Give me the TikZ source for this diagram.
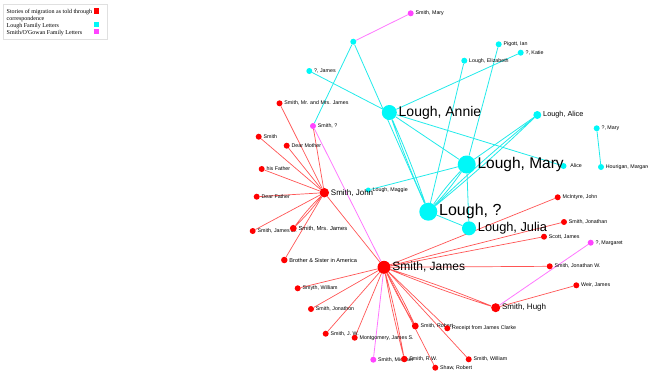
\documentclass[tikz,border=0pt]{standalone}
\usepackage{fontspec}
\setmainfont{Liberation Sans}
\newfontfamily\legendfont{Liberation Serif}
\usetikzlibrary{shapes,arrows}
\newcommand{\fsz}[1]{\fontsize{#1}{#1}\selectfont}

\definecolor{smithred}{HTML}{FF0000}
\definecolor{loughcyan}{HTML}{00F8F8}
\definecolor{gowanpink}{HTML}{FF44FF}
\definecolor{redline}{HTML}{FF5555}
\definecolor{cyanline}{HTML}{22EAEA}
\definecolor{pinkline}{HTML}{FF77FF}

\tikzstyle{person} = [circle, inner sep=0pt, minimum size=6pt]
\tikzstyle{smith} = [person, fill=smithred]
\tikzstyle{lough} = [person, fill=loughcyan]
\tikzstyle{gowan} = [person, fill=gowanpink]
\tikzstyle{every label} = [inner sep=1.5pt, font=\fsz{5.3}]
\tikzstyle{red link} = [draw=redline, line width=0.7pt]
\tikzstyle{cyan link} = [draw=cyanline, line width=0.8pt]
\tikzstyle{pink link} = [draw=pinkline, line width=0.8pt]
\tikzstyle{legend frame} = [draw=black!12, line width=0.4pt]
\tikzstyle{legend text} = [inner sep=0pt, align=left, font=\legendfont\fontsize{6}{7}\selectfont]
\tikzstyle{key} = [rectangle, inner sep=0pt, minimum size=5.5pt]

\pgfdeclarelayer{links}
\pgfsetlayers{links,main}

\begin{document}
\begin{tikzpicture}[x=1pt, y=-1pt]
\useasboundingbox (0,0) rectangle (648,370);

% legend
\draw [legend frame] (3,4) rectangle (107,39);
\node [legend text, anchor=north west, name=keytext1] at (6.5,8.8) {Stories of migration as told through\\correspondence};
\node [legend text, anchor=base west, name=keytext2] at (6.5,27) {Lough Family Letters};
\node [legend text, anchor=base west, name=keytext3] at (6.5,34) {Smith/O'Gowan Family Letters};
\node [key, fill=smithred, name=key1] at (96.7,11) {};
\node [key, fill=loughcyan, name=key2] at (96.7,24.5) {};
\node [key, fill=gowanpink, name=key3] at (96.7,31.5) {};

% Lough family
\node [lough, name=lnone] at (353.3,41.7) {};
\node [gowan, name=smithmary, label={right:Smith, Mary}] at (410.7,13.3) {};
\node [lough, name=jamesq, label={right:?, James}] at (309.3,71) {};
\node [lough, name=pigott, label={right:Pigott, Ian}] at (498.7,44.3) {};
\node [lough, name=katie, label={right:?, Katie}] at (520.7,52.7) {};
\node [lough, name=elizabeth, label={right:Lough, Elizabeth}] at (464.3,60.7) {};
\node [lough, name=annie, minimum size=15pt, label={[font=\fsz{14}]right:Lough, Annie}] at (389.3,112.5) {};
\node [lough, name=alice, minimum size=8pt, label={[font=\fsz{7.3}]right:Lough, Alice}] at (537.3,115) {};
\node [lough, name=maryq, label={right:?, Mary}] at (596.7,128.3) {};
\node [lough, name=hourigan, label={right:Hourigan, Margaret}] at (601,167) {};
\node [lough, name=alicetwo, label={[label distance=2pt]right:Alice}] at (563.5,166) {};
\node [lough, name=maggie, minimum size=5pt, label={right:Lough, Maggie}] at (368.3,190) {};
\node [lough, name=mary, minimum size=18pt, label={[font=\fsz{15.5}]right:Lough, Mary}] at (466.7,164.5) {};
\node [lough, name=loughq, minimum size=18pt, label={[font=\fsz{16}]right:Lough, ?}] at (428.3,211.7) {};
\node [lough, name=julia, minimum size=14pt, label={[font=\fsz{12.8}]right:Lough, Julia}] at (469,228.3) {};

% Smith family
\node [smith, name=mrmrs, label={right:Smith, Mr. and Mrs. James}] at (279.5,103.3) {};
\node [gowan, name=smithq, label={right:Smith, ?}] at (313,126) {};
\node [smith, name=smithonly, label={right:Smith}] at (258.7,136.7) {};
\node [smith, name=mother, label={right:Dear Mother}] at (286.7,145.7) {};
\node [smith, name=hisfather, label={right:his Father}] at (261.7,169) {};
\node [smith, name=father, label={right:Dear Father}] at (256.7,196.7) {};
\node [smith, name=jamesjr, label={right:Smith, James Jr.}] at (252.7,231) {};
\node [smith, name=mrsjames, minimum size=6.8pt, label={[font=\fsz{5.8}]right:Smith, Mrs. James}] at (293.3,228.3) {};
\node [smith, name=brother, minimum size=6.5pt, label={[font=\fsz{5.6}]right:Brother \& Sister in America}] at (284.3,260) {};
\node [smith, name=john, minimum size=9.5pt, label={[font=\fsz{8}]right:Smith, John}] at (324.3,192.7) {};
\node [smith, name=sjames, minimum size=13pt, label={[font=\fsz{12}]right:Smith, James}] at (384,267.3) {};
\node [smith, name=smyth, label={right:Smyth, William}] at (297.7,288.3) {};
\node [smith, name=jonathon, label={right:Smith, Jonathon}] at (311,309) {};
\node [smith, name=jw, label={right:Smith, J. W.}] at (325.7,333.7) {};
\node [smith, name=montgomery, label={right:Montgomery, James S.}] at (354.7,337.7) {};
\node [gowan, name=michael, label={right:Smith, Michael}] at (373.3,359.7) {};
\node [smith, name=rw, minimum size=6.5pt, label={right:Smith, R.W.}] at (404.3,359) {};
\node [smith, name=robert, minimum size=6.8pt, label={right:Smith, Robert}] at (415.3,326) {};
\node [smith, name=receipt, label={right:Receipt from James Clarke}] at (447.3,328.3) {};
\node [smith, name=shaw, label={right:Shaw, Robert}] at (435.3,367.7) {};
\node [smith, name=william, label={right:Smith, William}] at (468.7,359.3) {};
\node [smith, name=hugh, minimum size=9pt, label={[font=\fsz{8}]right:Smith, Hugh}] at (495.7,307.7) {};
\node [smith, name=weir, label={right:Weir, James}] at (576.3,285.3) {};
\node [gowan, name=margaret, label={right:?, Margaret}] at (590.7,242.7) {};
\node [smith, name=jonathanw, label={right:Smith, Jonathan W.}] at (549.7,266.3) {};
\node [smith, name=scott, label={right:Scott, James}] at (544,236.7) {};
\node [smith, name=jonathan, label={right:Smith, Jonathan}] at (564,222) {};
\node [smith, name=mcintyre, label={right:McIntyre, John}] at (557.7,197.3) {};

\begin{pgfonlayer}{links}
% letters to and from John
\foreach \to in {mrmrs, smithq, smithonly, mother, hisfather, father, jamesjr, brother, sjames}
  \draw [red link] (john) -- (\to);
\draw [red link] (john) to[bend left=4] (mrsjames) (john) to[bend right=4] (mrsjames);
% letters to and from James
\foreach \to in {mcintyre, jonathan, scott, jonathanw, smyth, jonathon, jw, montgomery, receipt, shaw, william}
  \draw [red link] (sjames) -- (\to);
\draw [red link] (sjames) to[bend left=2] (hugh) (sjames) to[bend right=2] (hugh);
\draw [red link] (sjames) to[bend left=3] (robert) (sjames) to[bend right=3] (robert);
\draw [red link] (sjames) to[bend left=2] (rw) (sjames) to[bend right=2] (rw);
\draw [red link] (hugh) -- (weir);
\draw [pink link] (hugh) -- (margaret);
\draw [pink link] (sjames) -- (michael);
\draw [pink link] (sjames) -- (smithq);
\draw [pink link] (lnone) -- (smithmary);
% Lough letters
\draw [cyan link] (lnone) -- (smithq);
\draw [cyan link] (lnone) -- (loughq);
\draw [cyan link] (jamesq) -- (annie);
\draw [cyan link] (annie) -- (katie);
\draw [cyan link] (annie) -- (mary);
\draw [cyan link] (annie) -- (alicetwo);
\draw [cyan link] (annie) to[bend left=2] (loughq) (annie) to[bend right=2] (loughq);
\draw [cyan link] (elizabeth) -- (loughq);
\draw [cyan link] (pigott) -- (mary);
\draw [cyan link] (alice) -- (mary);
\draw [cyan link] (alice) to[bend left=2] (loughq) (alice) to[bend right=2] (loughq);
\draw [cyan link] (mary) to[bend left=4] (loughq) (mary) to[bend right=4] (loughq);
\draw [cyan link] (mary) -- (julia);
\draw [cyan link] (maggie) -- (mary);
\draw [cyan link] (loughq) -- (julia);
\draw [cyan link] (maryq) -- (hourigan);
\end{pgfonlayer}

\end{tikzpicture}
\end{document}
